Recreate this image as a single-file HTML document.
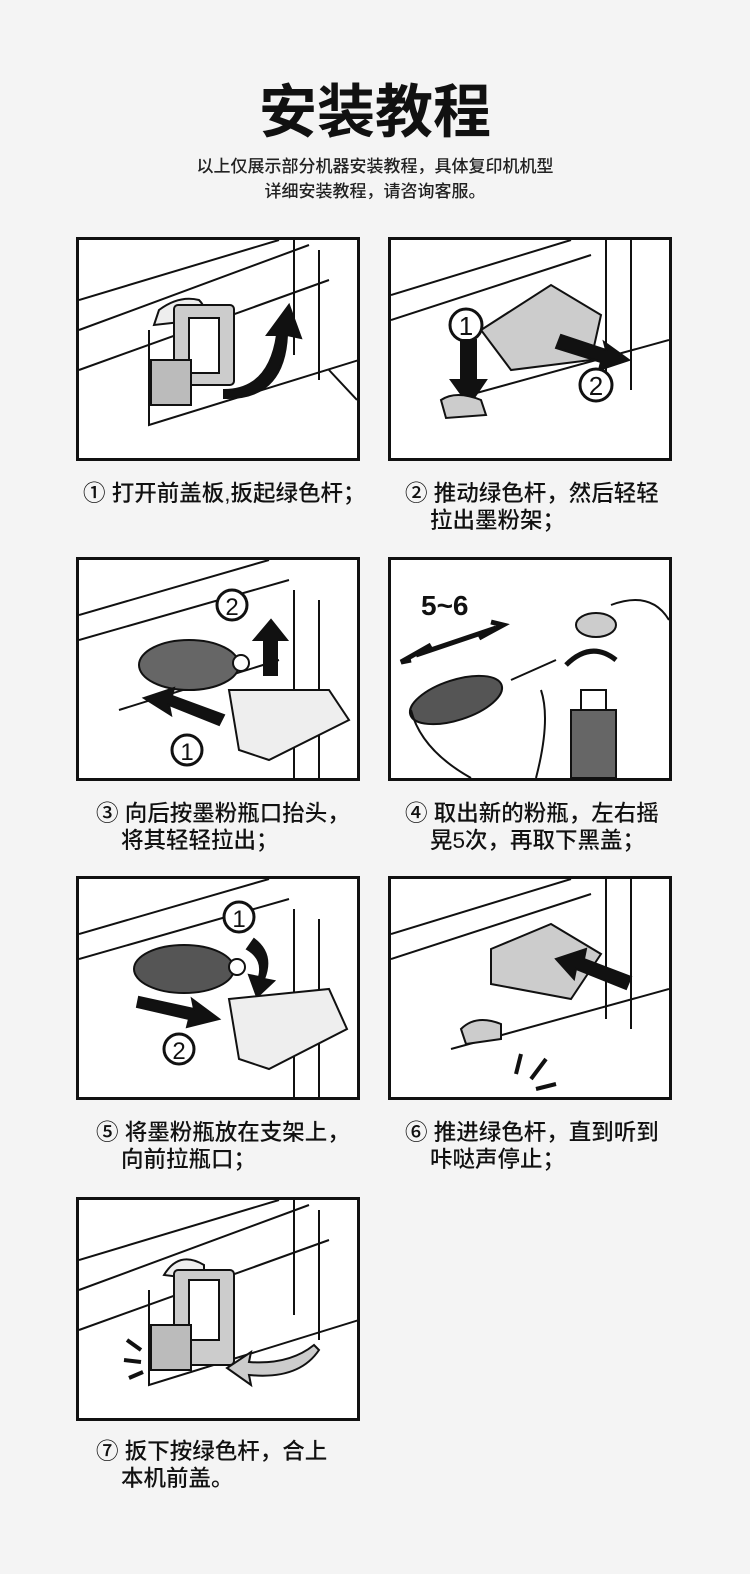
<!DOCTYPE html>
<html><head><meta charset="utf-8"><style>
body{margin:0;width:750px;height:1574px;background:#f4f4f4;position:relative;overflow:hidden;font-family:"Liberation Sans","Noto Sans CJK SC",sans-serif;color:#222}
.t{position:absolute;left:0;width:750px;text-align:center}
.p{position:absolute;width:278px;height:218px;border:3px solid #111;background:#fff}
.p svg{width:278px;height:218px;display:block}
.c{position:absolute;font-size:22.5px;line-height:27px;color:#111;font-weight:500;white-space:nowrap}
</style></head><body>
<div class="t" style="top:78px;font-size:58px;font-weight:bold;color:#111;line-height:70px">安装教程</div>
<div class="t" style="top:154px;font-size:17px;line-height:25px;color:#222;font-weight:500">以上仅展示部分机器安装教程，具体复印机机型<br>详细安装教程，请咨询客服。</div>

<div class="p" style="left:76px;top:237px"><svg viewBox="0 0 278 218" fill="none" stroke="#111" stroke-width="2">
<path d="M0 60 L200 0 M0 90 L230 5 M0 130 L250 40"/><path d="M215 0 V115 M240 10 V140"/>
<path d="M70 90 V185 L280 120 M250 130 L278 160"/>
<path d="M75 85 L80 70 Q100 55 120 60 Q130 70 120 80 Z" fill="#eee"/>
<rect x="95" y="65" width="60" height="80" fill="#ccc" rx="4"/><rect x="110" y="78" width="30" height="55" fill="#fff"/>
<rect x="72" y="120" width="40" height="45" fill="#bbb"/>
<path d="M145 150 Q190 150 198 95 L188 95 L210 65 L222 98 L208 95 Q205 160 145 158Z" fill="#111"/>
</svg></div>
<div class="c" style="left:83px;top:480px">① 打开前盖板,扳起绿色杆；</div>

<div class="p" style="left:388px;top:237px"><svg viewBox="0 0 278 218" fill="none" stroke="#111" stroke-width="2">
<path d="M0 55 L180 0 M0 80 L200 15 M215 0 V140 M240 0 V150 M60 160 L278 100"/>
<path d="M90 90 L160 45 L210 75 L200 120 L120 130 Z" fill="#ccc"/>
<circle cx="75" cy="85" r="16" fill="#fff" stroke-width="3"/><text x="75" y="95" font-size="26" fill="#111" stroke="none" text-anchor="middle">1</text>
<path d="M70 100 V140 L60 140 L78 165 L95 140 L85 140 V100Z" fill="#111"/>
<path d="M50 160 Q65 150 90 160 L95 175 L55 178Z" fill="#ccc"/>
<path d="M170 95 L215 110 L213 102 L238 120 L208 130 L210 122 L165 108Z" fill="#111"/>
<circle cx="205" cy="145" r="16" fill="#fff" stroke-width="3"/><text x="205" y="155" font-size="26" fill="#111" stroke="none" text-anchor="middle">2</text>
</svg></div>
<div class="c" style="left:405px;top:480px">② 推动绿色杆，然后轻轻<br>&nbsp;&nbsp;&nbsp;&nbsp;拉出墨粉架；</div>

<div class="p" style="left:76px;top:557px"><svg viewBox="0 0 278 218" fill="none" stroke="#111" stroke-width="2">
<path d="M0 55 L190 0 M0 80 L210 20 M215 30 V218 M240 40 V218 M40 150 L200 100"/>
<ellipse cx="110" cy="105" rx="50" ry="25" fill="#666"/><circle cx="162" cy="103" r="8" fill="#fff"/>
<circle cx="153" cy="45" r="15" fill="#fff" stroke-width="3"/><text x="153" y="55" font-size="24" fill="#111" stroke="none" text-anchor="middle">2</text>
<path d="M185 115 V80 L175 80 L192 60 L208 80 L198 80 V115Z" fill="#111"/>
<path d="M140 165 L90 145 L92 155 L65 138 L95 128 L93 136 L145 155Z" fill="#111"/>
<circle cx="108" cy="190" r="15" fill="#fff" stroke-width="3"/><text x="108" y="200" font-size="24" fill="#111" stroke="none" text-anchor="middle">1</text>
<path d="M150 130 L250 130 L270 160 L190 200 L160 190Z" fill="#eee"/>
</svg></div>
<div class="c" style="left:96px;top:800px">③ 向后按墨粉瓶口抬头，<br>&nbsp;&nbsp;&nbsp;&nbsp;将其轻轻拉出；</div>

<div class="p" style="left:388px;top:557px"><svg viewBox="0 0 278 218" fill="none" stroke="#111" stroke-width="2">
<text x="30" y="55" font-size="28" font-weight="bold" fill="#111" stroke="none">5~6</text>
<path d="M25 95 L105 68 M20 100 L10 102 L40 85 M100 62 L112 65 L88 78" stroke-width="5"/>
<ellipse cx="65" cy="140" rx="48" ry="20" fill="#555" transform="rotate(-18 65 140)"/>
<path d="M20 150 Q30 190 80 218 M150 130 Q160 160 145 218 M120 120 L165 100"/>
<ellipse cx="205" cy="65" rx="20" ry="12" fill="#ccc"/><path d="M220 45 Q260 30 278 60"/>
<path d="M175 105 Q200 80 225 100" stroke-width="5"/>
<rect x="180" y="150" width="45" height="68" fill="#666"/><rect x="190" y="130" width="25" height="20" fill="#fff"/>
</svg></div>
<div class="c" style="left:405px;top:800px">④ 取出新的粉瓶，左右摇<br>&nbsp;&nbsp;&nbsp;&nbsp;晃5次，再取下黑盖；</div>

<div class="p" style="left:76px;top:876px"><svg viewBox="0 0 278 218" fill="none" stroke="#111" stroke-width="2">
<path d="M0 55 L190 0 M0 80 L210 20 M215 30 V218 M240 40 V218"/>
<ellipse cx="105" cy="90" rx="50" ry="24" fill="#555"/><circle cx="158" cy="88" r="8" fill="#fff"/>
<circle cx="160" cy="38" r="15" fill="#fff" stroke-width="3"/><text x="160" y="48" font-size="24" fill="#111" stroke="none" text-anchor="middle">1</text>
<path d="M175 60 Q195 75 185 100 L195 102 L178 118 L170 96 L180 98 Q185 80 168 70Z" fill="#111"/>
<path d="M60 118 L115 130 L113 120 L140 140 L108 148 L110 140 L58 128Z" fill="#111"/>
<circle cx="100" cy="170" r="15" fill="#fff" stroke-width="3"/><text x="100" y="180" font-size="24" fill="#111" stroke="none" text-anchor="middle">2</text>
<path d="M150 120 L250 110 L268 150 L190 190 L160 180Z" fill="#eee"/>
</svg></div>
<div class="c" style="left:96px;top:1119px">⑤ 将墨粉瓶放在支架上，<br>&nbsp;&nbsp;&nbsp;&nbsp;向前拉瓶口；</div>

<div class="p" style="left:388px;top:876px"><svg viewBox="0 0 278 218" fill="none" stroke="#111" stroke-width="2">
<path d="M0 55 L180 0 M0 80 L200 15 M215 0 V140 M240 0 V150 M60 170 L278 110"/>
<path d="M100 70 L160 45 L210 75 L180 120 L100 105 Z" fill="#ccc"/>
<path d="M235 110 L185 90 L183 100 L165 80 L195 70 L193 80 L240 98Z" fill="#111"/>
<path d="M70 150 Q85 135 110 145 L110 160 L75 165Z" fill="#ccc"/>
<path d="M125 195 L130 175 M140 200 L155 180 M145 210 L165 205" stroke-width="4"/>
</svg></div>
<div class="c" style="left:405px;top:1119px">⑥ 推进绿色杆，直到听到<br>&nbsp;&nbsp;&nbsp;&nbsp;咔哒声停止；</div>

<div class="p" style="left:76px;top:1197px"><svg viewBox="0 0 278 218" fill="none" stroke="#111" stroke-width="2">
<path d="M0 60 L200 0 M0 90 L230 5 M0 130 L250 40"/><path d="M215 0 V115 M240 10 V140"/>
<path d="M70 90 V185 L280 120"/>
<path d="M85 75 Q100 50 125 65 L125 80 Z" fill="#eee"/>
<rect x="95" y="70" width="60" height="95" fill="#ccc" rx="4"/><rect x="110" y="80" width="30" height="60" fill="#fff"/>
<rect x="72" y="125" width="40" height="45" fill="#bbb"/>
<path d="M240 150 Q220 180 170 175 L172 185 L148 168 L172 152 L170 162 Q210 165 235 145Z" fill="#ccc"/>
<path d="M48 140 L62 150 M45 160 L62 162 M50 178 L64 172" stroke-width="4"/>
</svg></div>
<div class="c" style="left:96px;top:1438px">⑦ 扳下按绿色杆，合上<br>&nbsp;&nbsp;&nbsp;&nbsp;本机前盖。</div>
</body></html>
